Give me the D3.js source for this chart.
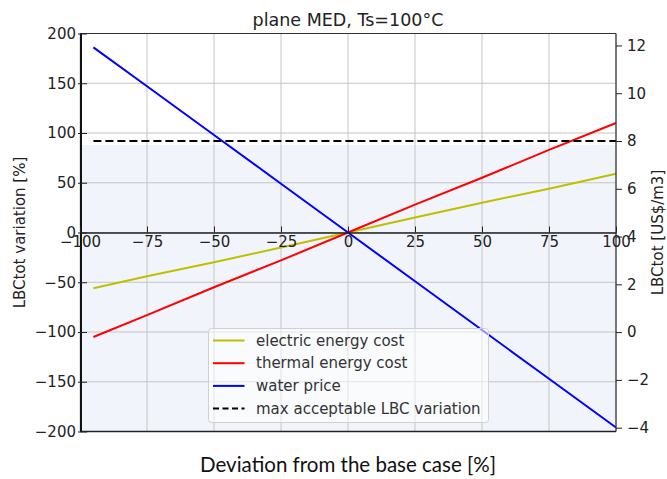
<!DOCTYPE html>
<html>
<head>
<meta charset="utf-8">
<script src="https://cdn.jsdelivr.net/npm/d3@7"></script>
<style>
  html, body { margin: 0; padding: 0; background: #fff; }
  svg { display: block; }
  text { font-family: "DejaVu Sans", sans-serif; fill: #222; }
</style>
</head>
<body>
<svg id="chart" width="667" height="479"></svg>
<script>
// Sensitivity of LBCtot to deviations of each cost driver (plane MED, Ts=100°C)
const deviation = [-95, -75, -50, -25, 0, 25, 50, 75, 100];
const electricEnergyCost = [-56, -44, -30, -15, 0, 15, 30, 44, 59];
const thermalEnergyCost = [-105, -83, -55, -28, 0, 28, 55, 83, 110];
const waterPrice = [186, 147, 98, 49, 0, -49, -98, -147, -196];
const maxAcceptableLBC = 8;          // US$/m3, right axis
const acceptableBandTop = 88;        // % variation, shaded band upper edge

const xTicks = [-100, -75, -50, -25, 0, 25, 50, 75, 100];
const yLeftTicks = [-200, -150, -100, -50, 0, 50, 100, 150, 200];
const yRightTicks = [-4, -2, 0, 2, 4, 6, 8, 10, 12];

const seriesNames = ["electric energy cost", "thermal energy cost", "water price", "max acceptable LBC variation"];
const seriesColors = ["#bfbf00", "#ff0000", "#0000ff", "#000000"];

const svg = d3.select("#chart");
const L = 80, R = 616, T = 33.5, B = 431.5;

const x = d3.scaleLinear().domain([-100, 100]).range([L, R]);
const yL = d3.scaleLinear().domain([-200, 200]).range([B, T]);
const yR = d3.scaleLinear().domain([-4.16, 12.5]).range([B, T]);

// shaded acceptable band
svg.append("rect")
  .attr("x", L).attr("y", yL(acceptableBandTop))
  .attr("width", R - L).attr("height", B - yL(acceptableBandTop))
  .attr("fill", "#f1f5fb");

// grid
const grid = svg.append("g").attr("stroke", "#c4c4c4").attr("stroke-width", 1);
xTicks.forEach(v => grid.append("line")
  .attr("x1", x(v)).attr("x2", x(v)).attr("y1", T).attr("y2", B));
yLeftTicks.forEach(v => grid.append("line")
  .attr("x1", L).attr("x2", R).attr("y1", yL(v)).attr("y2", yL(v)));

// series lines
const line = d3.line().x(d => x(d[0])).y(d => yL(d[1]));
[electricEnergyCost, thermalEnergyCost, waterPrice].forEach((vals, i) => {
  svg.append("path")
    .datum(deviation.map((d, j) => [d, vals[j]]))
    .attr("d", line)
    .attr("fill", "none")
    .attr("stroke", seriesColors[i])
    .attr("stroke-width", 2);
});

// threshold
svg.append("line")
  .attr("x1", x(deviation[0])).attr("x2", x(deviation[deviation.length - 1]))
  .attr("y1", yR(maxAcceptableLBC)).attr("y2", yR(maxAcceptableLBC))
  .attr("stroke", "#000").attr("stroke-width", 2)
  .attr("stroke-dasharray", "8,4");

// frame
svg.append("line").attr("x1", L).attr("x2", R).attr("y1", T).attr("y2", T)
  .attr("stroke", "#333").attr("stroke-width", 1.2);
svg.append("line").attr("x1", R).attr("x2", R).attr("y1", T).attr("y2", B)
  .attr("stroke", "#333").attr("stroke-width", 1.2);
svg.append("line").attr("x1", L).attr("x2", R).attr("y1", B).attr("y2", B)
  .attr("stroke", "#222").attr("stroke-width", 1.6);
svg.append("line").attr("x1", L + 1).attr("x2", L + 1).attr("y1", T).attr("y2", B)
  .attr("stroke", "#111").attr("stroke-width", 2);

// x axis through zero
const xAxis = d3.axisBottom(x).tickValues(xTicks).tickSize(0).tickPadding(4)
  .tickFormat(d => d3.format("d")(d).replace("-", "\u2212"));
const gx = svg.append("g").attr("transform", `translate(0,${yL(0)})`).call(xAxis);
gx.select(".domain").attr("stroke", "#222").attr("stroke-width", 1.6);
gx.selectAll(".tick text").attr("font-size", 15).attr("fill", "#222")
  .attr("font-family", "DejaVu Sans");
gx.selectAll(".tick").append("line")
  .attr("y1", 0).attr("y2", -6).attr("stroke", "#222").attr("stroke-width", 1);

// left axis
const yAxisL = d3.axisLeft(yL).tickValues(yLeftTicks).tickSize(0).tickPadding(4)
  .tickFormat(d => d3.format("d")(d).replace("-", "\u2212"));
const gyl = svg.append("g").attr("transform", `translate(${L},0)`).call(yAxisL);
gyl.select(".domain").remove();
gyl.selectAll(".tick text").attr("font-size", 15).attr("fill", "#222")
  .attr("font-family", "DejaVu Sans");
gyl.selectAll(".tick").append("line")
  .attr("x1", -2).attr("x2", 7).attr("stroke", "#222").attr("stroke-width", 1);

// right axis
const yAxisR = d3.axisRight(yR).tickValues(yRightTicks).tickSize(6).tickPadding(5)
  .tickFormat(d => d3.format("d")(d).replace("-", "\u2212"));
const gyr = svg.append("g").attr("transform", `translate(${R},0)`).call(yAxisR);
gyr.select(".domain").remove();
gyr.selectAll(".tick line").attr("stroke", "#222");
gyr.selectAll(".tick text").attr("font-size", 15).attr("fill", "#222")
  .attr("font-family", "DejaVu Sans");

// titles and labels
svg.append("text").attr("x", (L + R) / 2).attr("y", 26)
  .attr("text-anchor", "middle").attr("font-size", 17.5)
  .text("plane MED, Ts=100°C");
svg.append("text")
  .attr("transform", `translate(25,${(T + B) / 2}) rotate(-90)`)
  .attr("text-anchor", "middle").attr("font-size", 15)
  .text("LBCtot variation [%]");
svg.append("text")
  .attr("transform", `translate(663,${(T + B) / 2}) rotate(-90)`)
  .attr("text-anchor", "middle").attr("font-size", 15)
  .text("LBCtot [US$/m3]");
svg.append("text").attr("x", 348).attr("y", 472)
  .attr("text-anchor", "middle").attr("font-size", 20.5)
  .style("font-family", "Lato, 'Open Sans', sans-serif").style("fill", "#111")
  .text("Deviation from the base case [%]");

// legend
const lg = svg.append("g").attr("transform", "translate(208.5,328.5)");
lg.append("rect").attr("width", 280).attr("height", 94).attr("rx", 3)
  .attr("fill", "#ffffff").attr("fill-opacity", 0.55)
  .attr("stroke", "#d0d0d0").attr("stroke-width", 1);
seriesNames.forEach((name, i) => {
  const cy = 12 + i * 22.7;
  lg.append("line").attr("x1", 4.5).attr("x2", 36).attr("y1", cy).attr("y2", cy)
    .attr("stroke", seriesColors[i]).attr("stroke-width", 2)
    .attr("stroke-dasharray", i === 3 ? "6,3.5" : null);
  lg.append("text").attr("x", 47.5).attr("y", cy).attr("dy", "0.35em")
    .attr("font-size", 15).style("fill", "#333").text(name);
});
</script>
</body>
</html>
